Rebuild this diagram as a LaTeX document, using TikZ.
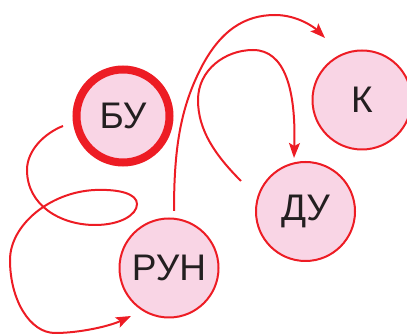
\documentclass[tikz,border=0pt]{standalone}
\usepackage{fontspec}
\setmainfont{Liberation Sans}
\usetikzlibrary{arrows.meta}
\definecolor{cred}{HTML}{ED1C24}
\definecolor{cpink}{HTML}{F9D5E5}
\definecolor{ctext}{HTML}{231F20}
\begin{document}
\begin{tikzpicture}[x=1pt,y=-1pt,
  state/.style={circle,draw=cred,fill=cpink,line width=2pt,inner sep=0pt,
    minimum size=99pt,text=ctext,font=\fontsize{37}{40}\selectfont},
  conn/.style={draw=cred,line width=2pt,
    -{Stealth[length=15pt,width=11pt,inset=3pt]}}]
\useasboundingbox (0,0) rectangle (407,336);
\begin{scope}
\clip (0,0) rectangle (407,336);
\node[state,line width=8pt,minimum size=93pt] (bu) at (123,116) {БУ};
\node[state] (run) at (169,268) {РУН};
\node[state] (k) at (362,100) {К};
\node[state] (du) at (305.5,211.5) {ДУ};
\end{scope}
\coordinate (s1) at (63,126);
\coordinate (e1) at (131,316);
\coordinate (s2) at (174,211);
\coordinate (e2) at (325,38);
\coordinate (s3) at (241,181);
\coordinate (e3) at (294,158);
\draw[conn] (s1) .. controls (45,133) and (27,150) .. (27,170)
  .. controls (27,205) and (60,225) .. (95,225)
  .. controls (120,225) and (137,215) .. (137,204)
  .. controls (137,194) and (120,189) .. (95,190)
  .. controls (50,192) and (10,225) .. (10,260)
  .. controls (10,300) and (30,333) .. (55,333)
  .. controls (80,333) and (110,326) .. (e1);
\draw[conn] (s2) .. controls (174,150) and (180,110) .. (200,70)
  .. controls (220,30) and (245,15) .. (275,15)
  .. controls (298,15) and (315,28) .. (e2);
\draw[conn] (s3) .. controls (215,155) and (198,130) .. (198,100)
  .. controls (198,70) and (225,50) .. (253,50)
  .. controls (285,50) and (296,90) .. (e3);
\end{tikzpicture}
\end{document}
